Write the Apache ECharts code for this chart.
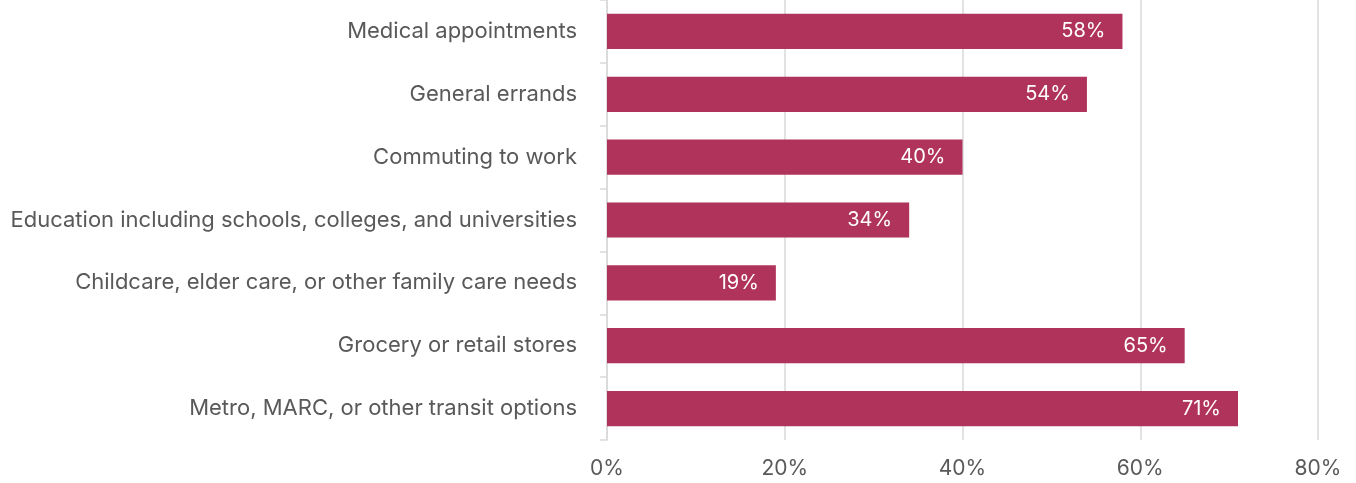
<!DOCTYPE html>
<html>
<head>
<meta charset="utf-8">
<script src="https://cdn.jsdelivr.net/npm/echarts@6/dist/echarts.min.js"></script>
<style>
  html, body { margin: 0; padding: 0; background: #fff; }
  #chart { width: 1356px; height: 483px; }
</style>
</head>
<body>
<div id="chart"></div>
<script>
// Share of respondents by trip purpose
const categories = [
  'Medical appointments',
  'General errands',
  'Commuting to work',
  'Education including schools, colleges, and universities',
  'Childcare, elder care, or other family care needs',
  'Grocery or retail stores',
  'Metro, MARC, or other transit options'
];
const shares = [58, 54, 40, 34, 19, 65, 71];
const axisTicks = [0, 20, 40, 60, 80];

const font = 'Inter, "Noto Sans", sans-serif';
const chart = echarts.init(document.getElementById('chart'));

chart.setOption({
  animation: false,
  grid: { left: 607, right: 38, top: -2, bottom: 43, containLabel: false },
  xAxis: {
    type: 'value',
    min: axisTicks[0],
    max: axisTicks[axisTicks.length - 1],
    interval: axisTicks[1] - axisTicks[0],
    axisLine: { show: false },
    axisTick: { show: false },
    splitLine: { lineStyle: { color: '#d9d9d9', width: 1.5 } },
    axisLabel: {
      formatter: '{value}%',
      color: '#595959',
      fontSize: 21,
      fontFamily: font,
      margin: 18
    }
  },
  yAxis: {
    type: 'category',
    data: categories,
    inverse: true,
    axisLine: { lineStyle: { color: '#d9d9d9', width: 1.5 } },
    axisTick: { show: true, length: 7, lineStyle: { color: '#d9d9d9', width: 1.5 } },
    axisLabel: {
      color: '#595959',
      fontSize: 22,
      fontFamily: font,
      margin: 30
    }
  },
  series: [{
    type: 'bar',
    data: shares,
    barCategoryGap: '44%',
    itemStyle: { color: '#b0335b' },
    label: {
      show: true,
      position: 'insideRight',
      distance: 17,
      formatter: '{c}%',
      color: '#ffffff',
      fontSize: 20,
      fontFamily: font
    }
  }]
});
</script>
</body>
</html>
